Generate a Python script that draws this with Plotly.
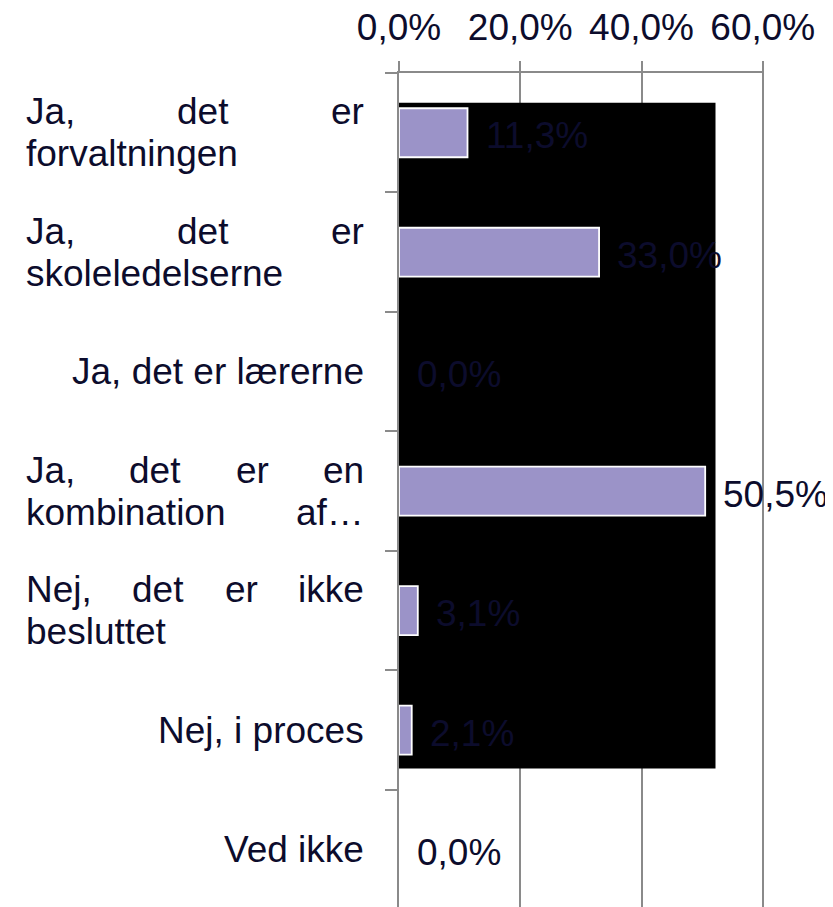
import plotly.graph_objects as go

# ---------------- data ----------------
CATEGORIES = [
    "Ja, det er forvaltningen",
    "Ja, det er skoleledelserne",
    "Ja, det er lærerne",
    "Ja, det er en kombination af…",
    "Nej, det er ikke besluttet",
    "Nej, i proces",
    "Ved ikke",
]
VALUES = [11.3, 33.0, 0.0, 50.5, 3.1, 2.1, 0.0]
VALUE_LABELS = ["11,3%", "33,0%", "0,0%", "50,5%", "3,1%", "2,1%", "0,0%"]
TICK_VALUES = [0, 20, 40, 60]
TICK_LABELS = ["0,0%", "20,0%", "40,0%", "60,0%"]
# wrapped category labels as shown (line text, alignment)
LABEL_LINES = [
    [("Ja, det er", "justify"), ("forvaltningen", "left")],
    [("Ja, det er", "justify"), ("skoleledelserne", "left")],
    [("Ja, det er lærerne", "right")],
    [("Ja, det er en", "justify"), ("kombination af…", "justify")],
    [("Nej, det er ikke", "justify"), ("besluttet", "left")],
    [("Nej, i proces", "right")],
    [("Ved ikke", "right")],
]

# ---------------- style ----------------
FONT = "Liberation Sans, Arial, sans-serif"
FS = 37
TXT = "#0c0c2c"
GRID = "#8a8a8a"
LW = 2
BAR = "#9b93c8"
BODY = 8  # default page margin around the plot div
ML, MR, MT, MB = 399 - BODY, 69, 73 - BODY, 0
LABEL_LEFT, LABEL_RIGHT = 24 - BODY, 366 - BODY
LINE_SHIFT = 21

# Arial / Liberation Sans advance widths (per 1000 em)
W = {"J": 500, "a": 556, ",": 278, " ": 278, "d": 556, "e": 556, "t": 278, "r": 333,
     "f": 278, "o": 556, "v": 500, "l": 222, "n": 556, "i": 222, "g": 556, "s": 500,
     "k": 500, "b": 556, "m": 833, "N": 722, "j": 222, "u": 556, "…": 1000, "p": 556,
     "c": 500, "V": 667, "æ": 889, "h": 556}


def text_w(s):
    return sum(W.get(ch, 556) for ch in s) * FS / 1000.0


fig = go.Figure(
    go.Bar(
        y=CATEGORIES,
        x=VALUES,
        orientation="h",
        width=0.41,
        marker=dict(color=BAR, line=dict(color="white", width=[1.8 if v > 0 else 0 for v in VALUES])),
        hoverinfo="skip",
    )
)

annotations = []
# category labels (justified text emulated word by word)
for cat, lines in zip(CATEGORIES, LABEL_LINES):
    n = len(lines)
    for li, (line, mode) in enumerate(lines):
        yshift = 0 if n == 1 else (LINE_SHIFT if li == 0 else -LINE_SHIFT)
        common = dict(xref="paper", x=0, yref="y", y=cat, yanchor="middle", yshift=yshift,
                      showarrow=False, font=dict(family=FONT, size=FS, color=TXT))
        if mode == "right":
            annotations.append(dict(text=line, xanchor="right", xshift=LABEL_RIGHT - ML, **common))
        elif mode == "left":
            annotations.append(dict(text=line, xanchor="left", xshift=LABEL_LEFT - ML, **common))
        else:
            words = line.split(" ")
            ws = [text_w(w) for w in words]
            gap = (LABEL_RIGHT - LABEL_LEFT - sum(ws)) / (len(words) - 1)
            pos = LABEL_LEFT
            for wi, (word, wd) in enumerate(zip(words, ws)):
                if wi == 0:
                    annotations.append(dict(text=word, xanchor="left", xshift=pos - ML, **common))
                elif wi == len(words) - 1:
                    annotations.append(dict(text=word, xanchor="right", xshift=LABEL_RIGHT - ML, **common))
                else:
                    annotations.append(dict(text=word, xanchor="center", xshift=pos + wd / 2 - ML, **common))
                pos += wd + gap

# data labels
for cat, v, lab in zip(CATEGORIES, VALUES, VALUE_LABELS):
    annotations.append(dict(text=lab, xref="x", x=v, yref="y", y=cat, xanchor="left", yanchor="middle",
                            xshift=16, yshift=-3, showarrow=False,
                            font=dict(family=FONT, size=FS, color=TXT)))

fig.update_layout(
    width=833 - BODY,
    height=907 - BODY,
    margin=dict(l=ML, r=MR, t=MT, b=MB, pad=0, autoexpand=False),
    paper_bgcolor="white",
    plot_bgcolor="white",
    showlegend=False,
    font=dict(family=FONT, size=FS, color=TXT),
    xaxis=dict(
        side="top",
        range=[0, 60.2],
        tickvals=TICK_VALUES,
        ticktext=TICK_LABELS,
        ticks="outside",
        ticklen=10,
        tickwidth=LW,
        tickcolor=GRID,
        ticklabelstandoff=6,
        automargin=False,
        showgrid=True,
        gridcolor=GRID,
        gridwidth=LW,
        showline=True,
        linecolor=GRID,
        linewidth=LW,
        zeroline=False,
        tickfont=dict(family=FONT, size=FS, color=TXT),
        fixedrange=True,
    ),
    yaxis=dict(
        type="category",
        categoryorder="array",
        categoryarray=CATEGORIES,
        range=[6.48, -0.5],
        showticklabels=False,
        automargin=False,
        ticks="outside",
        tickson="boundaries",
        ticklen=12,
        tickwidth=LW,
        tickcolor=GRID,
        showline=True,
        linecolor=GRID,
        linewidth=LW,
        showgrid=False,
        zeroline=False,
        fixedrange=True,
    ),
    shapes=[
        dict(type="rect", xref="x", yref="y", x0=0, x1=52.2, y0=-0.25, y1=5.32,
             fillcolor="black", line=dict(width=0), layer="between"),
    ],
    annotations=annotations,
)

fig.write_html("out.html")
